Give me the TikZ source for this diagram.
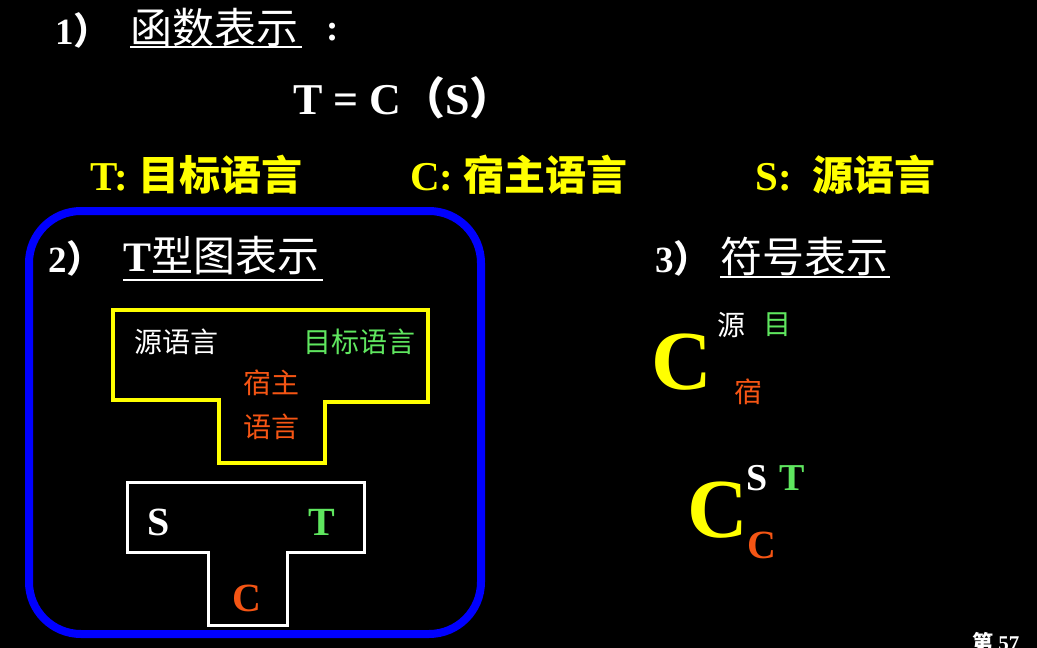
\documentclass[tikz,border=0pt]{standalone}
\usepackage{fontspec}
\setmainfont{Liberation Serif}
\newfontfamily\cjk{Noto Sans CJK SC}
\usetikzlibrary{positioning}
\definecolor{tgreen}{RGB}{95,230,95}
\definecolor{torange}{RGB}{245,85,20}
\definecolor{tblue}{RGB}{0,0,255}
\definecolor{tyellow}{RGB}{255,255,0}

\begin{document}
\begin{tikzpicture}[x=1pt, y=-1pt,
  txt/.style={inner sep=0pt, text=white},
  head/.style={txt, anchor=west, font=\fontsize{37}{40}\selectfont},
  chead/.style={txt, anchor=west, font=\fontsize{42}{44}\selectfont\cjk},
  lang/.style={txt, anchor=west, text=tyellow, font=\fontsize{41}{44}\selectfont\bfseries},
  inner/.style={txt, font=\fontsize{28}{44}\selectfont\cjk},
  letter/.style={txt, font=\fontsize{40}{44}\selectfont\bfseries},
  bigc/.style={txt, text=tyellow, font=\fontsize{84}{90}\selectfont\bfseries},
  uline/.style={white, line width=2pt},
  tshape/.style={line width=4pt, line join=miter}
]
\useasboundingbox (0,0) rectangle (1037,648);
\fill[black] (0,0) rectangle (1037,648);

%% 1) function form
\node[head] (n1) at (55,30) {\bfseries 1{\cjk ）}};
\node[chead] (f-head) at (130,28) {函数表示};
\node[head, anchor=center] (colon) at (333,32) {\bfseries :};
\draw[uline] (130,47) -- (302,47);
\node[head, font=\fontsize{44}{48}\selectfont\bfseries] (formula) at (293,98)
  {T = C{\cjk （}S{\cjk ）}};

\node[lang] (t-def) at (90,175) {T: {\cjk 目标语言}};
\node[lang] (c-def) at (410,175) {C: {\cjk 宿主语言}};
\node[lang] (s-def) at (755,175) {S:~~{\cjk 源语言}};

%% 2) T diagram
\draw[tblue, line width=8pt, rounded corners=52pt] (29,211) rectangle (481,634);
\node[head] (n2) at (48,258) {\bfseries 2{\cjk ）}};
\node[chead] (t-head) at (123,256) {{\rmfamily\bfseries T}型图表示};
\draw[uline] (123,280) -- (323,280);

\draw[tshape, tyellow] (113,310) -- (428,310) -- (428,402) -- (325,402)
  -- (325,463) -- (219,463) -- (219,400) -- (113,400) -- cycle;
\node[inner] (src) at (176,342) {源语言};
\node[inner, text=tgreen] (tgt) at (359,342) {目标语言};
\node[inner, text=torange, align=center] (host) at (271,405) {宿主\\语言};

\draw[tshape, white, line width=3pt] (127,482) -- (364,482) -- (364,552)
  -- (287,552) -- (287,625) -- (208,625) -- (208,552) -- (127,552) -- cycle;
\node[letter] (s-t) at (159,522) {S};
\node[letter, text=tgreen] (t-t) at (322,522) {T};
\node[letter, text=torange] (c-t) at (247,598) {C};

%% 3) symbol form
\node[head] (n3) at (655,258) {\bfseries 3{\cjk ）}};
\node[chead] (s-head) at (720,256) {符号表示};
\draw[uline] (720,277) -- (890,277);

\node[bigc] (c1) at (682,362) {C};
\node[inner] (c1-src) at (731,325) {源};
\node[inner, text=tgreen] (c1-tgt) at (777,325) {目};
\node[inner, text=torange] (c1-host) at (748,392) {宿};

\node[bigc] (c2) at (718,510) {C};
\node[letter, font=\fontsize{38}{40}\selectfont\bfseries] (c2-src) at (757,478) {S};
\node[letter, font=\fontsize{38}{40}\selectfont\bfseries, text=tgreen] (c2-tgt) at (792,478) {T};
\node[letter, text=torange] (c2-host) at (762,545) {C};

%% page number
\node[txt, anchor=west, font=\fontsize{21}{24}\selectfont\bfseries] (page) at (972,642) {{\cjk 第} 57};
\end{tikzpicture}
\end{document}
